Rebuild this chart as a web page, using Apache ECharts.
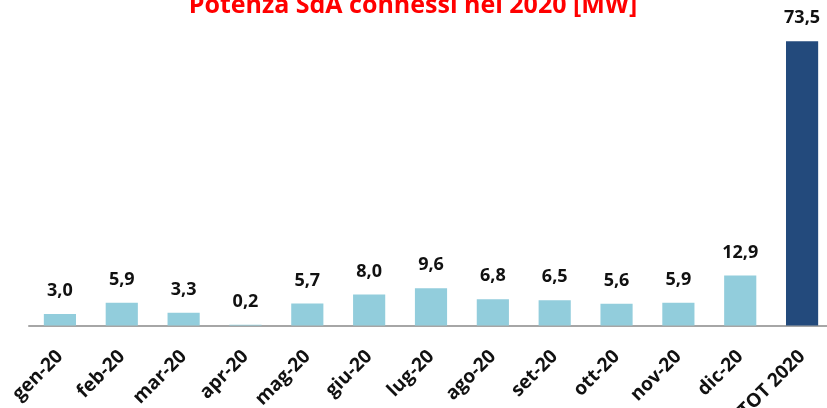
<!DOCTYPE html>
<html>
<head>
<meta charset="utf-8">
<script src="https://cdn.jsdelivr.net/npm/echarts@6/dist/echarts.min.js"></script>
<style>
  html, body { margin: 0; padding: 0; background: #fff; }
  #chart { width: 827px; height: 408px; }
</style>
</head>
<body>
<div id="chart"></div>
<script>
// dati
var mesi = ['gen-20', 'feb-20', 'mar-20', 'apr-20', 'mag-20', 'giu-20', 'lug-20',
            'ago-20', 'set-20', 'ott-20', 'nov-20', 'dic-20', 'TOT 2020'];
var potenza = [3.0, 5.9, 3.3, 0.2, 5.7, 8.0, 9.6, 6.8, 6.5, 5.6, 5.9, 12.9, 73.5];

var chartDom = document.getElementById('chart');
var myChart = echarts.init(chartDom);

var barData = potenza.map(function (v, i) {
    return {
        value: v,
        itemStyle: { color: i === potenza.length - 1 ? '#234A7C' : '#92CDDC' }
    };
});

var option = {
    animation: false,
    title: {
        text: 'Potenza SdA connessi nel 2020 [MW]',
        left: 408,
        textAlign: 'center',
        top: -12,
        textStyle: {
            color: '#FF0000',
            fontFamily: 'Open Sans',
            fontWeight: 'bold',
            fontSize: 25
        }
    },
    grid: {
        left: 29,
        top: 16,
        width: 804,
        height: 309.5,
        containLabel: false,
        outerBoundsMode: 'none'
    },
    xAxis: {
        type: 'category',
        data: mesi,
        axisLine: { lineStyle: { color: '#A6A6A6', width: 2 } },
        axisTick: { length: 7, lineStyle: { color: '#A6A6A6', width: 2 } },
        axisLabel: {
            rotate: 45,
            interval: 0,
            margin: 28,
            color: '#111',
            fontFamily: 'Open Sans',
            fontWeight: 'bold',
            fontSize: 19
        }
    },
    yAxis: {
        type: 'value',
        min: 0,
        max: 80,
        show: false,
        splitLine: { show: false }
    },
    series: [
        {
            type: 'bar',
            data: barData,
            barWidth: '52%',
            label: {
                show: true,
                position: 'top',
                distance: 14,
                color: '#111',
                fontFamily: 'Open Sans',
                fontWeight: 'bold',
                fontSize: 18,
                formatter: function (p) {
                    return p.value.toFixed(1).replace('.', ',');
                }
            }
        }
    ]
};

if (option && typeof option === "object") {
    myChart.setOption(option, true);
}
</script>
</body>
</html>
